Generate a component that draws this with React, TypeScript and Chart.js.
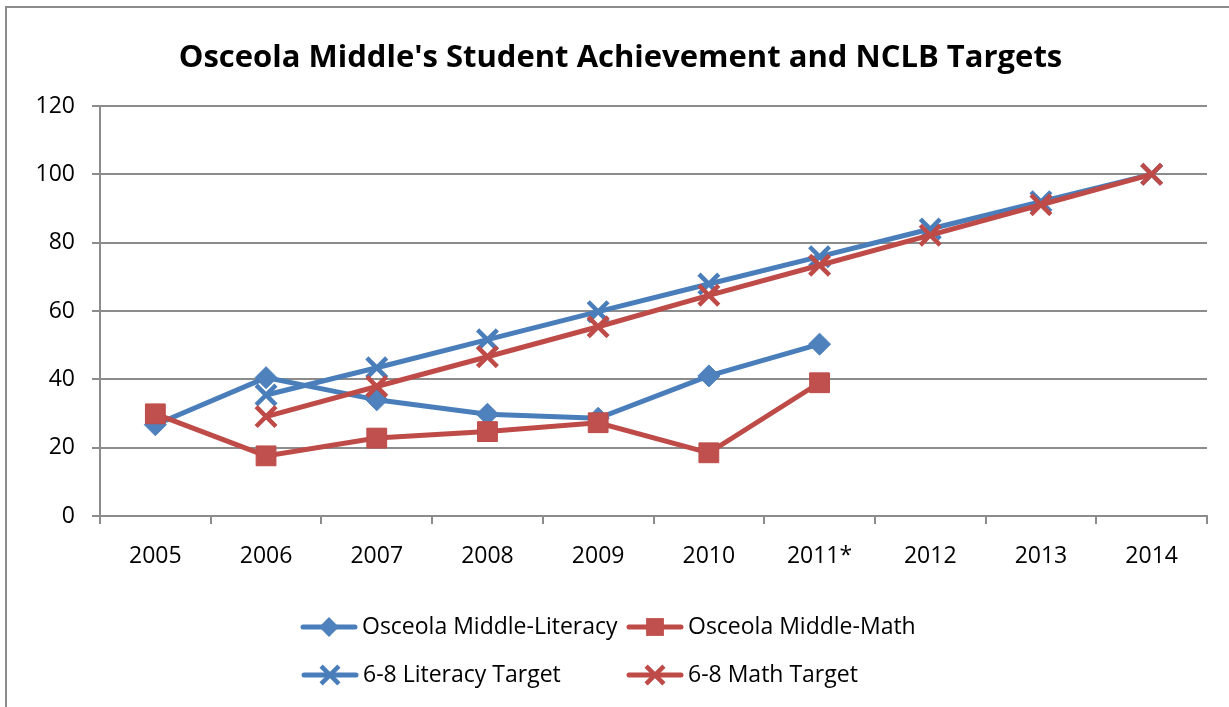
import React, { useEffect, useRef } from 'react';
import { Chart, registerables } from 'chart.js';

Chart.register(...registerables);

const categories = ['2005', '2006', '2007', '2008', '2009', '2010', '2011*', '2012', '2013', '2014'];
const literacy = [26.7, 40.5, 34.0, 29.8, 28.6, 41.0, 50.3, null, null, null];
const math = [29.9, 17.6, 22.8, 24.7, 27.3, 18.5, 39.0, null, null, null];
const literacyTarget = [null, 35.4, 43.4, 51.6, 59.8, 67.9, 75.9, 84.0, 92.0, 100];
const mathTarget = [null, 29.1, 37.9, 46.6, 55.4, 64.6, 73.4, 82.2, 91.1, 100];
const seriesNames = ['Osceola Middle-Literacy', 'Osceola Middle-Math', '6-8 Literacy Target', '6-8 Math Target'];
const yTickValues = [0, 20, 40, 60, 80, 100, 120];
const chartTitle = "Osceola Middle's Student Achievement and NCLB Targets";

const BLUE = '#4A7EBB';
const RED = '#BE4B48';
const GRID = '#8C8C8C';
const FONT = '"Open Sans", sans-serif';

// legend layout (pixel positions of icon centres / rows)
const legendCols = [[329, 655], [330, 655]];
const legendRows = [627, 675];
const titlePos = { x: 620.5, y: 58 };

function drawMarker(ctx: CanvasRenderingContext2D, style: string, x: number, y: number, r: number, color: string) {
  ctx.save();
  ctx.fillStyle = color;
  ctx.strokeStyle = color;
  if (style === 'rectRot') {
    ctx.beginPath();
    ctx.moveTo(x, y - r);
    ctx.lineTo(x + r, y);
    ctx.lineTo(x, y + r);
    ctx.lineTo(x - r, y);
    ctx.closePath();
    ctx.fill();
  } else if (style === 'rect') {
    const s = r * Math.SQRT1_2;
    ctx.fillRect(x - s, y - s, 2 * s, 2 * s);
  } else if (style === 'crossRot') {
    const s = r * Math.SQRT1_2;
    ctx.lineWidth = 4.5;
    ctx.beginPath();
    ctx.moveTo(x - s, y - s);
    ctx.lineTo(x + s, y + s);
    ctx.moveTo(x + s, y - s);
    ctx.lineTo(x - s, y + s);
    ctx.stroke();
  }
  ctx.restore();
}

const excelTitleAndLegend = {
  id: 'excelTitleAndLegend',
  afterDraw(chart: any) {
    const ctx: CanvasRenderingContext2D = chart.ctx;
    ctx.save();
    ctx.fillStyle = '#000';
    ctx.font = `bold 31px ${FONT}`;
    ctx.textAlign = 'center';
    ctx.textBaseline = 'middle';
    ctx.fillText(chartTitle, titlePos.x, titlePos.y);
    ctx.restore();

    chart.data.datasets.forEach((ds: any, i: number) => {
      const row = Math.floor(i / 2);
      const col = i % 2;
      const cx = legendCols[row][col];
      const cy = legendRows[row];
      ctx.save();
      ctx.strokeStyle = ds.borderColor;
      ctx.lineWidth = 5;
      ctx.lineCap = 'round';
      ctx.beginPath();
      ctx.moveTo(cx - 26, cy);
      ctx.lineTo(cx + 26, cy);
      ctx.stroke();
      ctx.restore();
      drawMarker(ctx, ds.pointStyle, cx, cy, ds.pointRadius * 0.9, ds.pointBackgroundColor);
      ctx.save();
      ctx.fillStyle = '#000';
      ctx.font = `23px ${FONT}`;
      ctx.textBaseline = 'middle';
      ctx.textAlign = 'left';
      ctx.fillText(ds.label, cx + 33, cy);
      ctx.restore();
    });
  },
};

export default function App() {
  const ref = useRef<HTMLCanvasElement | null>(null);

  useEffect(() => {
    if (!ref.current) return;
    Chart.defaults.font.family = FONT;
    const chart = new Chart(ref.current, {
      type: 'line',
      data: {
        labels: categories,
        datasets: [
          {
            label: seriesNames[0], data: literacy, order: 3,
            borderColor: BLUE, backgroundColor: BLUE, borderWidth: 5,
            pointStyle: 'rectRot', pointRadius: 11, pointBackgroundColor: '#4F81BD', pointBorderColor: BLUE, pointBorderWidth: 1,
            spanGaps: false, tension: 0,
          },
          {
            label: seriesNames[1], data: math, order: 2,
            borderColor: RED, backgroundColor: RED, borderWidth: 5,
            pointStyle: 'rect', pointRadius: 14, pointBackgroundColor: '#C0504D', pointBorderColor: RED, pointBorderWidth: 1,
            spanGaps: false, tension: 0,
          },
          {
            label: seriesNames[2], data: literacyTarget, order: 1,
            borderColor: BLUE, backgroundColor: BLUE, borderWidth: 5,
            pointStyle: 'crossRot', pointRadius: 14, pointBackgroundColor: BLUE, pointBorderColor: BLUE, pointBorderWidth: 4.5,
            spanGaps: false, tension: 0,
          },
          {
            label: seriesNames[3], data: mathTarget, order: 0,
            borderColor: RED, backgroundColor: RED, borderWidth: 5,
            pointStyle: 'crossRot', pointRadius: 14, pointBackgroundColor: RED, pointBorderColor: RED, pointBorderWidth: 4.5,
            spanGaps: false, tension: 0,
          },
        ],
      },
      options: {
        responsive: false,
        animation: false,
        layout: { padding: { left: 0, right: 22, top: 106, bottom: 131 } },
        plugins: {
          legend: { display: false },
          tooltip: { enabled: false },
          title: { display: false },
        },
        scales: {
          x: {
            offset: true,
            grid: { display: true, offset: true, drawOnChartArea: false, drawTicks: true, tickLength: 8, color: GRID, lineWidth: 2 },
            border: { display: true, color: GRID, width: 2 },
            ticks: { color: '#000', font: { family: FONT, size: 23 }, padding: 19, maxRotation: 0, autoSkip: false },
            afterFit: (s: any) => { s.height = 60; },
          },
          y: {
            min: 0,
            max: 120,
            afterBuildTicks: (s: any) => { s.ticks = yTickValues.map((v) => ({ value: v })); },
            grid: { color: GRID, lineWidth: 2, drawTicks: true, tickLength: 8 },
            border: { display: true, color: GRID, width: 2 },
            ticks: { color: '#000', font: { family: FONT, size: 23 }, padding: 17 },
            afterFit: (s: any) => { s.width = 100; },
          },
        },
      },
      plugins: [excelTitleAndLegend],
    });
    return () => chart.destroy();
  }, []);

  return (
    <div style={{ position: 'fixed', left: 0, top: 0, width: 1229, height: 707, overflow: 'hidden', background: '#fff' }}>
      <div style={{ position: 'absolute', left: 5, top: 6, width: 1260, height: 760, border: '2px solid #8C8C8C', boxSizing: 'border-box' }} />
      <canvas ref={ref} width={1229} height={707} style={{ position: 'absolute', left: 0, top: 0, display: 'block' }} />
    </div>
  );
}
